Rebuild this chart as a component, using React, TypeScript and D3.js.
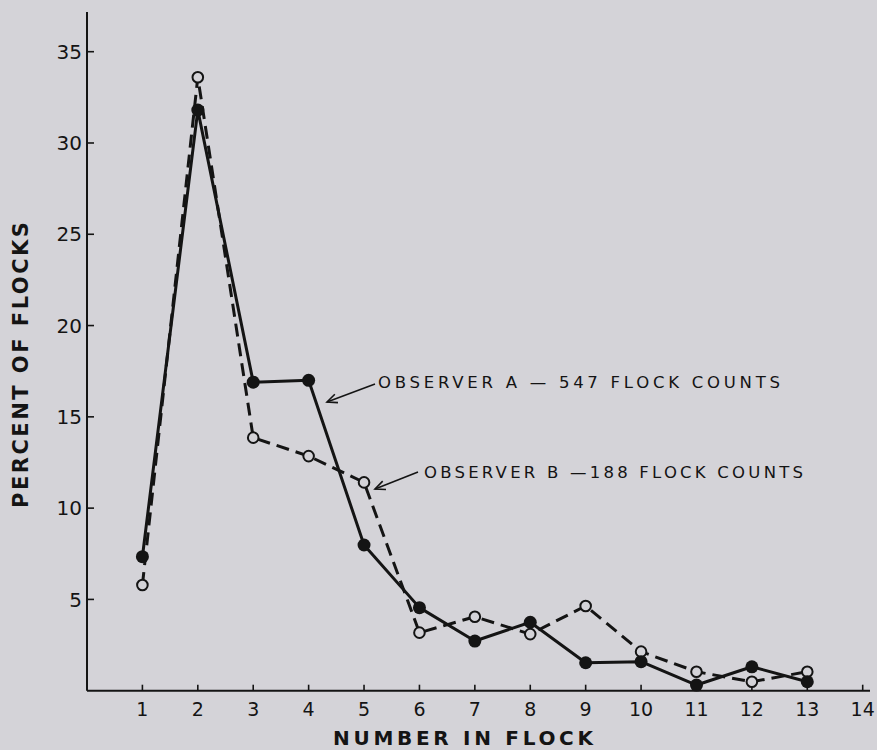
import React from "react";
import * as d3 from "d3";

const flockSizes = [1, 2, 3, 4, 5, 6, 7, 8, 9, 10, 11, 12, 13];
const observerA = [7.34, 31.8, 16.9, 17.0, 7.98, 4.55, 2.72, 3.75, 1.53, 1.59, 0.31, 1.31, 0.49];
const observerB = [5.79, 33.6, 13.86, 12.85, 11.41, 3.18, 4.05, 3.1, 4.64, 2.14, 1.04, 0.49, 1.04];
const xTicks = [1, 2, 3, 4, 5, 6, 7, 8, 9, 10, 11, 12, 13, 14];
const yTicks = [5, 10, 15, 20, 25, 30, 35];
const labelA = "OBSERVER A — 547 FLOCK COUNTS";
const labelB = "OBSERVER B —188 FLOCK COUNTS";

const W = 877;
const H = 750;
const BG = "#d4d3d8";
const INK = "#141414";
const FONT = "'DejaVu Sans', 'Liberation Sans', Arial, sans-serif";

export default function App() {
  const x = d3.scaleLinear().domain([0, 14]).range([87, 862.7]);
  const y = d3.scaleLinear().domain([0, 35]).range([690.7, 51.7]);
  const line = d3
    .line<number>()
    .x((_, i) => x(flockSizes[i]))
    .y((d) => y(d));

  const arrowHead = (x1: number, y1: number, x2: number, y2: number) => {
    const ang = Math.atan2(y2 - y1, x2 - x1);
    const L = 11;
    const spread = 0.42;
    const p1 = [x2 - L * Math.cos(ang - spread), y2 - L * Math.sin(ang - spread)];
    const p2 = [x2 - L * Math.cos(ang + spread), y2 - L * Math.sin(ang + spread)];
    return `M${p1[0]},${p1[1]} L${x2},${y2} L${p2[0]},${p2[1]}`;
  };

  return (
    <>
      <style>{`body{margin:0;background:${BG};}`}</style>
      <svg width={W} height={H} style={{ display: "block", background: BG }}>
        <rect x={0} y={0} width={W} height={H} fill={BG} />
        {/* axes */}
        <line x1={x(0)} y1={12} x2={x(0)} y2={y(0)} stroke={INK} strokeWidth={2} />
        <line x1={x(0)} y1={y(0)} x2={870} y2={y(0)} stroke={INK} strokeWidth={2} />
        {yTicks.map((t) => (
          <g key={"y" + t}>
            <line x1={x(0)} x2={x(0) + 7} y1={y(t)} y2={y(t)} stroke={INK} strokeWidth={1.6} />
            <text
              x={82}
              y={y(t)}
              dy="0.36em"
              textAnchor="end"
              fontFamily={FONT}
              fontSize={20}
              fill={INK}
            >
              {t}
            </text>
          </g>
        ))}
        {xTicks.map((t) => (
          <g key={"x" + t}>
            <line x1={x(t)} x2={x(t)} y1={y(0)} y2={y(0) - 6} stroke={INK} strokeWidth={1.6} />
            <text
              x={x(t)}
              y={716}
              textAnchor="middle"
              fontFamily={FONT}
              fontSize={19}
              fill={INK}
            >
              {t}
            </text>
          </g>
        ))}
        {/* axis titles */}
        <text
          x={333}
          y={745}
          textLength={260}
          lengthAdjust="spacing"
          fontFamily={FONT}
          fontSize={20}
          fontWeight="bold"
          fill={INK}
        >
          NUMBER IN FLOCK
        </text>
        <text
          transform={`translate(28,508) rotate(-90)`}
          x={0}
          y={0}
          textLength={286}
          lengthAdjust="spacing"
          fontFamily={FONT}
          fontSize={21}
          fontWeight="bold"
          fill={INK}
        >
          PERCENT OF FLOCKS
        </text>
        {/* series lines */}
        <path
          d={line(observerB) || ""}
          fill="none"
          stroke={INK}
          strokeWidth={3}
          strokeDasharray="13,7"
          strokeLinejoin="round"
        />
        <path d={line(observerA) || ""} fill="none" stroke={INK} strokeWidth={3} strokeLinejoin="round" />
        {/* markers */}
        {observerB.map((v, i) => (
          <circle
            key={"b" + i}
            cx={x(flockSizes[i])}
            cy={y(v)}
            r={5.3}
            fill={BG}
            stroke={INK}
            strokeWidth={2}
          />
        ))}
        {observerA.map((v, i) => (
          <circle key={"a" + i} cx={x(flockSizes[i])} cy={y(v)} r={6.5} fill={INK} />
        ))}
        {/* annotations */}
        <line x1={375} y1={384} x2={327} y2={402} stroke={INK} strokeWidth={1.6} />
        <path d={arrowHead(375, 384, 327, 402)} fill="none" stroke={INK} strokeWidth={1.6} />
        <text
          x={378}
          y={387.5}
          textLength={402}
          lengthAdjust="spacing"
          fontFamily={FONT}
          fontSize={16.5}
          fill={INK}
        >
          {labelA}
        </text>
        <line x1={418} y1={472} x2={375} y2={489} stroke={INK} strokeWidth={1.6} />
        <path d={arrowHead(418, 472, 375, 489)} fill="none" stroke={INK} strokeWidth={1.6} />
        <text
          x={424}
          y={477.5}
          textLength={379}
          lengthAdjust="spacing"
          fontFamily={FONT}
          fontSize={16.5}
          fill={INK}
        >
          {labelB}
        </text>
      </svg>
    </>
  );
}
